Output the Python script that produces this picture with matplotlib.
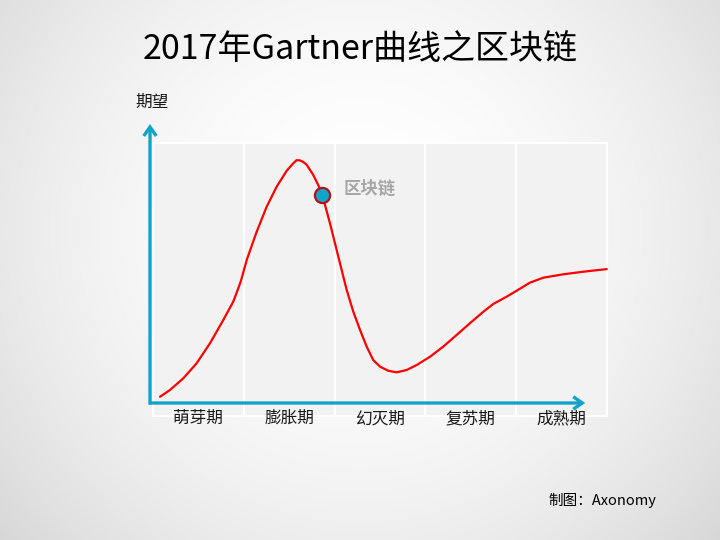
import numpy as np
import matplotlib
matplotlib.use("Agg")
import matplotlib.pyplot as plt
from matplotlib.patches import Rectangle, FancyArrowPatch

plt.rcParams['font.family'] = ['Noto Sans CJK SC', 'DejaVu Sans']

# ---- data ----
title = "2017年Gartner曲线之区块链"
phases = ["萌芽期", "膨胀期", "幻灭期", "复苏期", "成熟期"]
y_label = "期望"
credit = "制图：Axonomy"
tech_name = "区块链"

# hype curve (x: phase units 0..5, y: expectation 0..100)
hype_x = [0.077, 0.187, 0.334, 0.481, 0.628, 0.774, 0.884, 0.939, 0.966, 1.032,
          1.142, 1.252, 1.362, 1.472, 1.545, 1.582, 1.619, 1.655, 1.693, 1.765,
          1.820, 1.865, 1.949, 2.023, 2.096, 2.133, 2.206, 2.280, 2.353, 2.426,
          2.500, 2.591, 2.684, 2.794, 2.904, 3.051, 3.197, 3.345, 3.491, 3.638,
          3.748, 3.895, 4.006, 4.152, 4.299, 4.519, 4.739, 4.997]
hype_y = [2.4, 5.0, 9.5, 15.3, 23.0, 31.9, 39.0, 44.1, 46.7, 55.0,
          65.9, 75.5, 83.2, 89.3, 92.2, 93.4, 93.3, 92.7, 91.6, 87.7,
          83.8, 80.0, 69.1, 58.8, 48.6, 43.5, 35.1, 28.1, 21.7, 16.5,
          14.0, 12.4, 11.8, 12.7, 14.6, 17.8, 21.7, 26.2, 30.7, 35.1,
          38.1, 40.9, 43.2, 46.3, 48.2, 49.5, 50.5, 51.5]
tech_x = 1.865
tech_y = 80.0

# ---- figure ----
W, H = 720, 540
fig = plt.figure(figsize=(7.2, 5.4), dpi=100)

# radial gradient background
bg = fig.add_axes([0, 0, 1, 1])
yy, xx = np.mgrid[0:H, 0:W]
r = np.sqrt((xx - 360) ** 2 + (yy - 230) ** 2) / 450.0
val = np.clip(1.0 - 0.14 * r ** 2, 0, 1)
bg.imshow(np.dstack([val, val, val]), extent=[0, W, H, 0], aspect='auto')
bg.set_xlim(0, W)
bg.set_ylim(H, 0)
bg.axis('off')

# main axes, pixel mapping: x=(px-153)/90.8, y=(403-py)/2.6
px_l, px_r, py_t, py_b = 140, 620, 110, 430
ax = fig.add_axes([px_l / W, (H - py_b) / H, (px_r - px_l) / W, (py_b - py_t) / H])
ax.set_xlim((px_l - 153) / 90.8, (px_r - 153) / 90.8)
ax.set_ylim((403 - py_b) / 2.6, (403 - py_t) / 2.6)
ax.axis('off')
ax.patch.set_alpha(0)

# phase bands
for i in range(len(phases)):
    ax.add_patch(Rectangle((i, -5), 1, 105, facecolor='#f2f2f2',
                           edgecolor='white', linewidth=1.5, zorder=1))
    ax.text(i + 0.5, -6.0, phases[i], ha='center', va='center',
            fontsize=12, color='#1a1a1a', zorder=5)

# axes arrows (open chevron heads)
teal = '#12a3c9'
astyle = '->,head_length=6.5,head_width=4.5'
ax.add_patch(FancyArrowPatch((-0.033, -0.6), (-0.033, 107.3), arrowstyle=astyle,
                             color=teal, linewidth=2.4, mutation_scale=1, zorder=4,
                             shrinkA=0, shrinkB=0, joinstyle='miter', capstyle='butt'))
ax.add_patch(FancyArrowPatch((-0.045, 0), (4.76, 0), arrowstyle=astyle,
                             color=teal, linewidth=2.4, mutation_scale=1, zorder=4,
                             shrinkA=0, shrinkB=0, joinstyle='miter', capstyle='butt'))

# hype curve
ax.plot(hype_x, hype_y, color='#ff0000', linewidth=1.6, solid_joinstyle='round',
        solid_capstyle='round', zorder=3)

# technology marker
ax.scatter([tech_x], [tech_y], s=120, facecolor='#0ea5cc', edgecolor='#b5101c',
           linewidth=1.6, zorder=6)
ax.text(tech_x + 0.23, tech_y + 2.5, tech_name, ha='left', va='center',
        fontsize=12.5, fontweight='bold', color='#a6a6a6', zorder=6)

# texts
fig.text(360 / W, 1 - 50 / H, title, ha='center', va='center', fontsize=24.5, color='black')
fig.text(152 / W, 1 - 102 / H, y_label, ha='center', va='center', fontsize=12, color='#1a1a1a')
fig.text(548 / W, 1 - 500 / H, credit, ha='left', va='center', fontsize=10.5, color='black')

fig.savefig("out.png", dpi=100)
